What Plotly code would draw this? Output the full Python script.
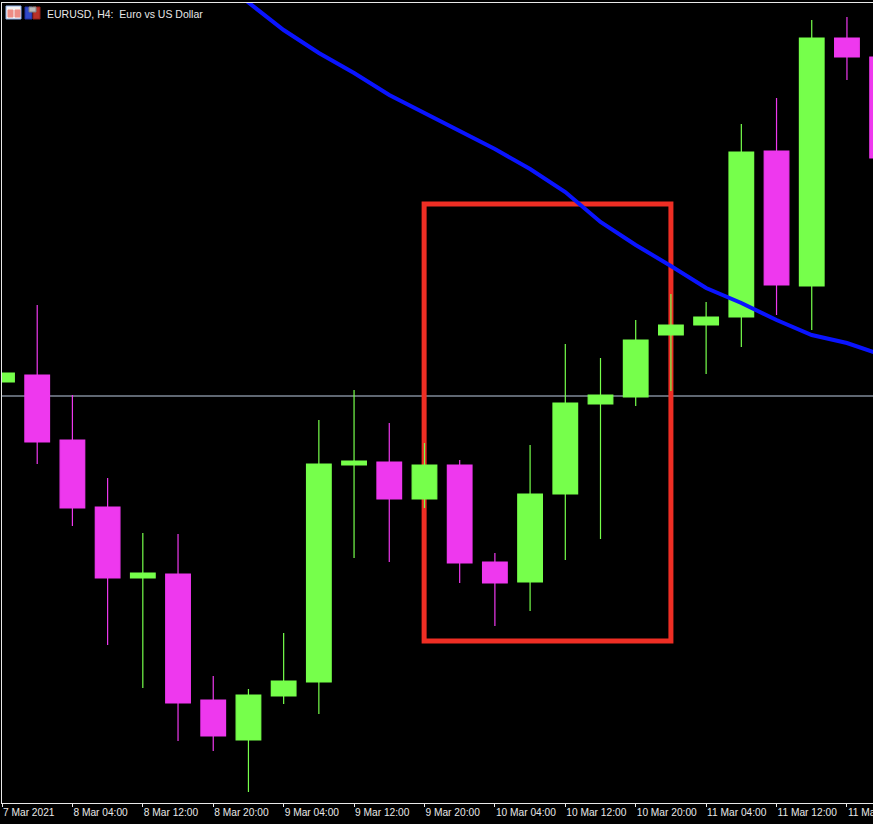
import plotly.graph_objects as go

bars = list(range(26))
opens = [1.19028,1.19042,1.18912,1.18778,1.18636,1.18644,1.18392,1.18312,1.18400,1.18428,1.18862,1.18868,1.18794,1.18862,1.18668,1.18628,1.18804,1.18984,1.18998,1.19122,1.19142,1.19158,1.19490,1.19220,1.19716,1.19678]
highs = [1.19046,1.19182,1.19002,1.18836,1.18726,1.18724,1.18440,1.18414,1.18526,1.18952,1.19012,1.18946,1.18906,1.18872,1.18686,1.18902,1.19104,1.19076,1.19152,1.19204,1.19188,1.19544,1.19596,1.19752,1.19758,1.19700]
lows = [1.19028,1.18864,1.18740,1.18502,1.18416,1.18310,1.18290,1.18208,1.18384,1.18364,1.18676,1.18668,1.18776,1.18626,1.18540,1.18570,1.18672,1.18714,1.18980,1.19010,1.19044,1.19098,1.19162,1.19132,1.19632,1.19450]
closes = [1.19046,1.18908,1.18776,1.18636,1.18646,1.18386,1.18320,1.18402,1.18430,1.18864,1.18870,1.18794,1.18862,1.18666,1.18626,1.18804,1.18986,1.19002,1.19112,1.19142,1.19158,1.19488,1.19222,1.19716,1.19678,1.19476]

ma_bars = list(range(6, 26))
ma_values = [1.19842,1.19786,1.19732,1.19686,1.19646,1.19602,1.19566,1.19530,1.19494,1.19454,1.19408,1.19348,1.19302,1.19260,1.19216,1.19186,1.19152,1.19122,1.19106,1.19082]

tick_bars = [0,2,4,6,8,10,12,14,16,18,20,22,24]
tick_labels = ["7 Mar 2021","8 Mar 04:00","8 Mar 12:00","8 Mar 20:00","9 Mar 04:00","9 Mar 12:00","9 Mar 20:00",
               "10 Mar 04:00","10 Mar 12:00","10 Mar 20:00","11 Mar 04:00","11 Mar 12:00","11 Mar 20:00"]

bid_price = 1.19
box_bars = [11.99, 19.0]
box_prices = [1.1851, 1.19384]
title_text = "EURUSD, H4:  Euro vs US Dollar"

GREEN = "#76ff4b"
MAGENTA = "#ee38ee"
WHITE = "#e8e8e8"

fig = go.Figure()
fig.add_trace(go.Candlestick(
    x=bars, open=opens, high=highs, low=lows, close=closes,
    increasing=dict(line=dict(color=GREEN, width=1.2), fillcolor=GREEN),
    decreasing=dict(line=dict(color=MAGENTA, width=1.2), fillcolor=MAGENTA),
    whiskerwidth=0, showlegend=False, hoverinfo="skip",
))
fig.add_trace(go.Scatter(
    x=ma_bars, y=ma_values, mode="lines",
    line=dict(color="#0a14ff", width=4), showlegend=False, hoverinfo="skip",
))

fig.add_shape(type="line", layer="below", x0=0, x1=1, xref="paper", y0=bid_price, y1=bid_price,
              line=dict(color="#7f8a99", width=1.5))
fig.add_shape(type="rect", layer="below", x0=box_bars[0], x1=box_bars[1], y0=box_prices[0], y1=box_prices[1],
              line=dict(color="#ee2e24", width=5))

W, H = 871.0, 800.0
def icon(x0, x1, y0, y1, fill, border):
    fig.add_shape(type="rect", xref="paper", yref="paper", layer="above",
                  x0=(x0-2)/W, x1=(x1-2)/W, y0=1-(y0-3)/H, y1=1-(y1-3)/H,
                  fillcolor=fill, line=dict(color=border, width=1))
icon(6, 21, 6, 19, "#f4f2f2", "#8fb0e8")
icon(8, 13, 10, 17, "#ee8c84", "#ee8c84")
icon(15, 20, 10, 17, "#ee8c84", "#ee8c84")
icon(25, 32, 7, 19, "#3048c8", "#2030a0")
icon(33, 40, 7, 19, "#b83028", "#902018")
icon(29, 36, 7, 12, "#b8b8b8", "#808080")

fig.add_annotation(text=title_text, xref="paper", yref="paper", x=(45-2)/W, y=1-(14-3)/H,
                   xanchor="left", yanchor="middle", showarrow=False,
                   font=dict(family="Liberation Sans", size=10.5, color=WHITE))

fig.update_layout(
    width=873, height=824, autosize=False,
    paper_bgcolor="#000000", plot_bgcolor="#000000",
    margin=dict(l=2, r=0, t=3, b=21, pad=0, autoexpand=False),
    boxgap=0.0, showlegend=False,
    xaxis=dict(range=[0, 24.74], rangeslider=dict(visible=False), showgrid=False, zeroline=False,
               automargin=False,
               tickmode="array", tickvals=tick_bars, ticktext=tick_labels, tickangle=0,
               ticks="outside", ticklen=3, tickcolor=WHITE, tickwidth=1,
               ticklabelposition="outside right", ticklabeloverflow="allow",
               tickfont=dict(family="Liberation Sans", size=10.2, color=WHITE),
               showline=True, linecolor=WHITE, linewidth=1, mirror=True),
    yaxis=dict(range=[1.18186, 1.19786], showgrid=False, zeroline=False, showticklabels=False, ticks="",
               automargin=False, showline=True, linecolor=WHITE, linewidth=1, mirror=False),
)
fig.write_html("out.html", config=dict(displayModeBar=False),
               post_script="document.body.style.margin='0';document.body.style.background='#000';")
